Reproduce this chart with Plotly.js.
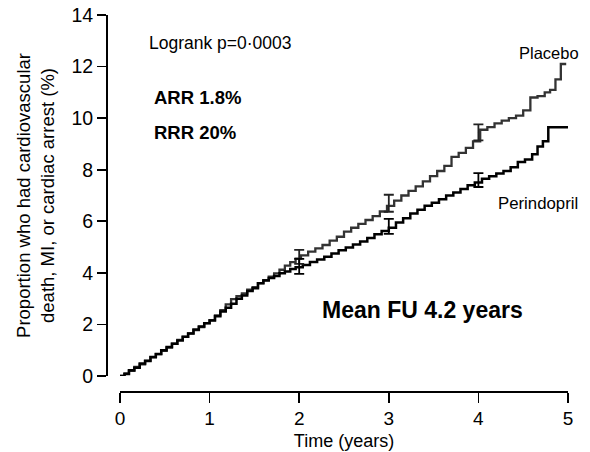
<!DOCTYPE html>
<html>
<head>
<meta charset="utf-8">
<script src="https://cdn.plot.ly/plotly-3.0.1.min.js"></script>
<style>html,body{margin:0;padding:0;background:#fff;}#chart{width:590px;height:452px;}</style>
</head>
<body>
<div id="chart"></div>
<script>
// Placebo step curve (years, % with event)
const placeboT = [0, 0.05, 0.1, 0.16, 0.22, 0.28, 0.34, 0.4, 0.46, 0.52, 0.58, 0.64, 0.7, 0.76, 0.82, 0.88, 0.94, 1.0, 1.06, 1.12, 1.18, 1.24, 1.3, 1.36, 1.42, 1.48, 1.54, 1.6, 1.66, 1.72, 1.78, 1.84, 1.9, 1.96, 2.02, 2.1, 2.18, 2.26, 2.34, 2.42, 2.5, 2.58, 2.66, 2.74, 2.82, 2.9, 2.98, 3.06, 3.14, 3.22, 3.3, 3.38, 3.46, 3.54, 3.62, 3.7, 3.78, 3.86, 3.94, 4.02, 4.1, 4.18, 4.26, 4.34, 4.42, 4.5, 4.58, 4.66, 4.74, 4.8, 4.86, 4.92, 4.98];
const placeboV = [0, 0.1, 0.2, 0.35, 0.45, 0.6, 0.72, 0.85, 0.98, 1.1, 1.25, 1.4, 1.52, 1.65, 1.78, 1.9, 2.05, 2.17, 2.35, 2.55, 2.78, 2.98, 3.1, 3.2, 3.35, 3.45, 3.6, 3.72, 3.85, 3.98, 4.12, 4.28, 4.42, 4.55, 4.68, 4.82, 4.95, 5.08, 5.25, 5.4, 5.6, 5.75, 5.9, 6.05, 6.2, 6.38, 6.6, 6.8, 7.0, 7.18, 7.35, 7.55, 7.75, 7.95, 8.15, 8.5, 8.65, 8.85, 9.1, 9.55, 9.65, 9.8, 9.9, 10.0, 10.1, 10.3, 10.8, 10.85, 11.0, 11.1, 11.5, 12.1, 12.1];
// Perindopril step curve
const perindoprilT = [0, 0.05, 0.1, 0.16, 0.22, 0.28, 0.34, 0.4, 0.46, 0.52, 0.58, 0.64, 0.7, 0.76, 0.82, 0.88, 0.94, 1.0, 1.06, 1.12, 1.18, 1.24, 1.3, 1.36, 1.42, 1.48, 1.54, 1.6, 1.66, 1.72, 1.78, 1.84, 1.9, 1.96, 2.04, 2.12, 2.2, 2.28, 2.36, 2.44, 2.52, 2.6, 2.68, 2.76, 2.84, 2.92, 3.0, 3.08, 3.16, 3.24, 3.32, 3.4, 3.48, 3.56, 3.64, 3.72, 3.8, 3.88, 3.96, 4.04, 4.12, 4.2, 4.28, 4.36, 4.44, 4.52, 4.6, 4.66, 4.72, 4.78, 5.0];
const perindoprilV = [0, 0.08, 0.22, 0.32, 0.48, 0.58, 0.74, 0.85, 1.0, 1.12, 1.25, 1.38, 1.52, 1.65, 1.8, 1.92, 2.05, 2.15, 2.32, 2.5, 2.65, 2.8, 3.0, 3.12, 3.3, 3.4, 3.6, 3.7, 3.8, 3.88, 3.98, 4.05, 4.15, 4.22, 4.3, 4.42, 4.52, 4.62, 4.75, 4.88, 4.98, 5.1, 5.22, 5.35, 5.5, 5.62, 5.75, 5.95, 6.12, 6.3, 6.45, 6.6, 6.72, 6.85, 7.0, 7.12, 7.25, 7.4, 7.5, 7.65, 7.75, 7.85, 7.95, 8.1, 8.3, 8.4, 8.6, 8.9, 9.1, 9.65, 9.65];
// Error bars at yearly time points
const ciYears = [2, 3, 4];
const placeboCI = [4.62, 6.7, 9.45];
const placeboErr = [0.27, 0.33, 0.31];
const perindoprilCI = [4.25, 5.8, 7.6];
const perindoprilErr = [0.29, 0.29, 0.27];
const xTicks = [0, 1, 2, 3, 4, 5];
const yTicks = [0, 2, 4, 6, 8, 10, 12, 14];

const FONT = 'Arial, "Liberation Sans", sans-serif';
const traces = [
  {x: placeboT, y: placeboV, mode: 'lines', line: {shape: 'hv', color: '#333', width: 2.3}, hoverinfo: 'skip'},
  {x: perindoprilT, y: perindoprilV, mode: 'lines', line: {shape: 'hv', color: '#000', width: 2.5}, hoverinfo: 'skip'},
  {x: ciYears, y: placeboCI, mode: 'markers', marker: {size: 1, color: '#222'},
   error_y: {type: 'data', array: placeboErr, visible: true, color: '#222', thickness: 1.8, width: 5}},
  {x: ciYears, y: perindoprilCI, mode: 'markers', marker: {size: 1, color: '#000'},
   error_y: {type: 'data', array: perindoprilErr, visible: true, color: '#000', thickness: 1.8, width: 5}}
];

const layout = {
  width: 590, height: 452,
  paper_bgcolor: '#fff', plot_bgcolor: '#fff',
  showlegend: false,
  margin: {l: 106, r: 22, t: 15, b: 61},
  font: {family: FONT, color: '#000'},
  xaxis: {
    domain: [0.0303, 1], range: [0, 5], anchor: 'free', position: 0,
    tickvals: xTicks, ticktext: xTicks.map(String),
    showgrid: false, zeroline: false, showline: true, linecolor: '#000', linewidth: 1.6,
    ticks: 'outside', ticklen: 10, tickwidth: 1.6, tickcolor: '#000',
    tickfont: {size: 19, family: FONT, color: '#000'},
    title: {text: 'Time (years)', font: {size: 18, family: FONT, color: '#000'}, standoff: 6}
  },
  yaxis: {
    domain: [0.0399, 1], range: [0, 14], anchor: 'free', position: 0,
    tickvals: yTicks, ticktext: yTicks.map(String),
    showgrid: false, zeroline: false, showline: true, linecolor: '#000', linewidth: 1.6,
    ticks: 'outside', ticklen: 9, tickwidth: 1.6, tickcolor: '#000',
    tickfont: {size: 19.5, family: FONT, color: '#000'},
    title: {text: 'Proportion who had cardiovascular<br>death, MI, or cardiac arrest (%)', font: {size: 18.5, family: FONT, color: '#000'}, standoff: 10}
  },
  annotations: [
    {text: 'Logrank p=0·0003', x: 147, y: 43, size: 17.5},
    {text: '<b>ARR 1.8%</b>', x: 152, y: 97, size: 18.5},
    {text: '<b>RRR 20%</b>', x: 152, y: 132, size: 18.5},
    {text: 'Placebo', x: 517, y: 53, size: 16.5},
    {text: 'Perindopril', x: 496, y: 203, size: 16.8},
    {text: '<b>Mean FU 4.2 years</b>', x: 320, y: 310, size: 23}
  ].map(a => ({
    text: a.text, showarrow: false, xref: 'paper', yref: 'paper',
    x: (a.x - 106) / 462, y: (452 - 61 - a.y) / 376,
    xanchor: 'left', yanchor: 'middle',
    font: {size: a.size, family: FONT, color: '#000'}
  }))
};

Plotly.newPlot('chart', traces, layout, {displayModeBar: false, staticPlot: true});
</script>
</body>
</html>
